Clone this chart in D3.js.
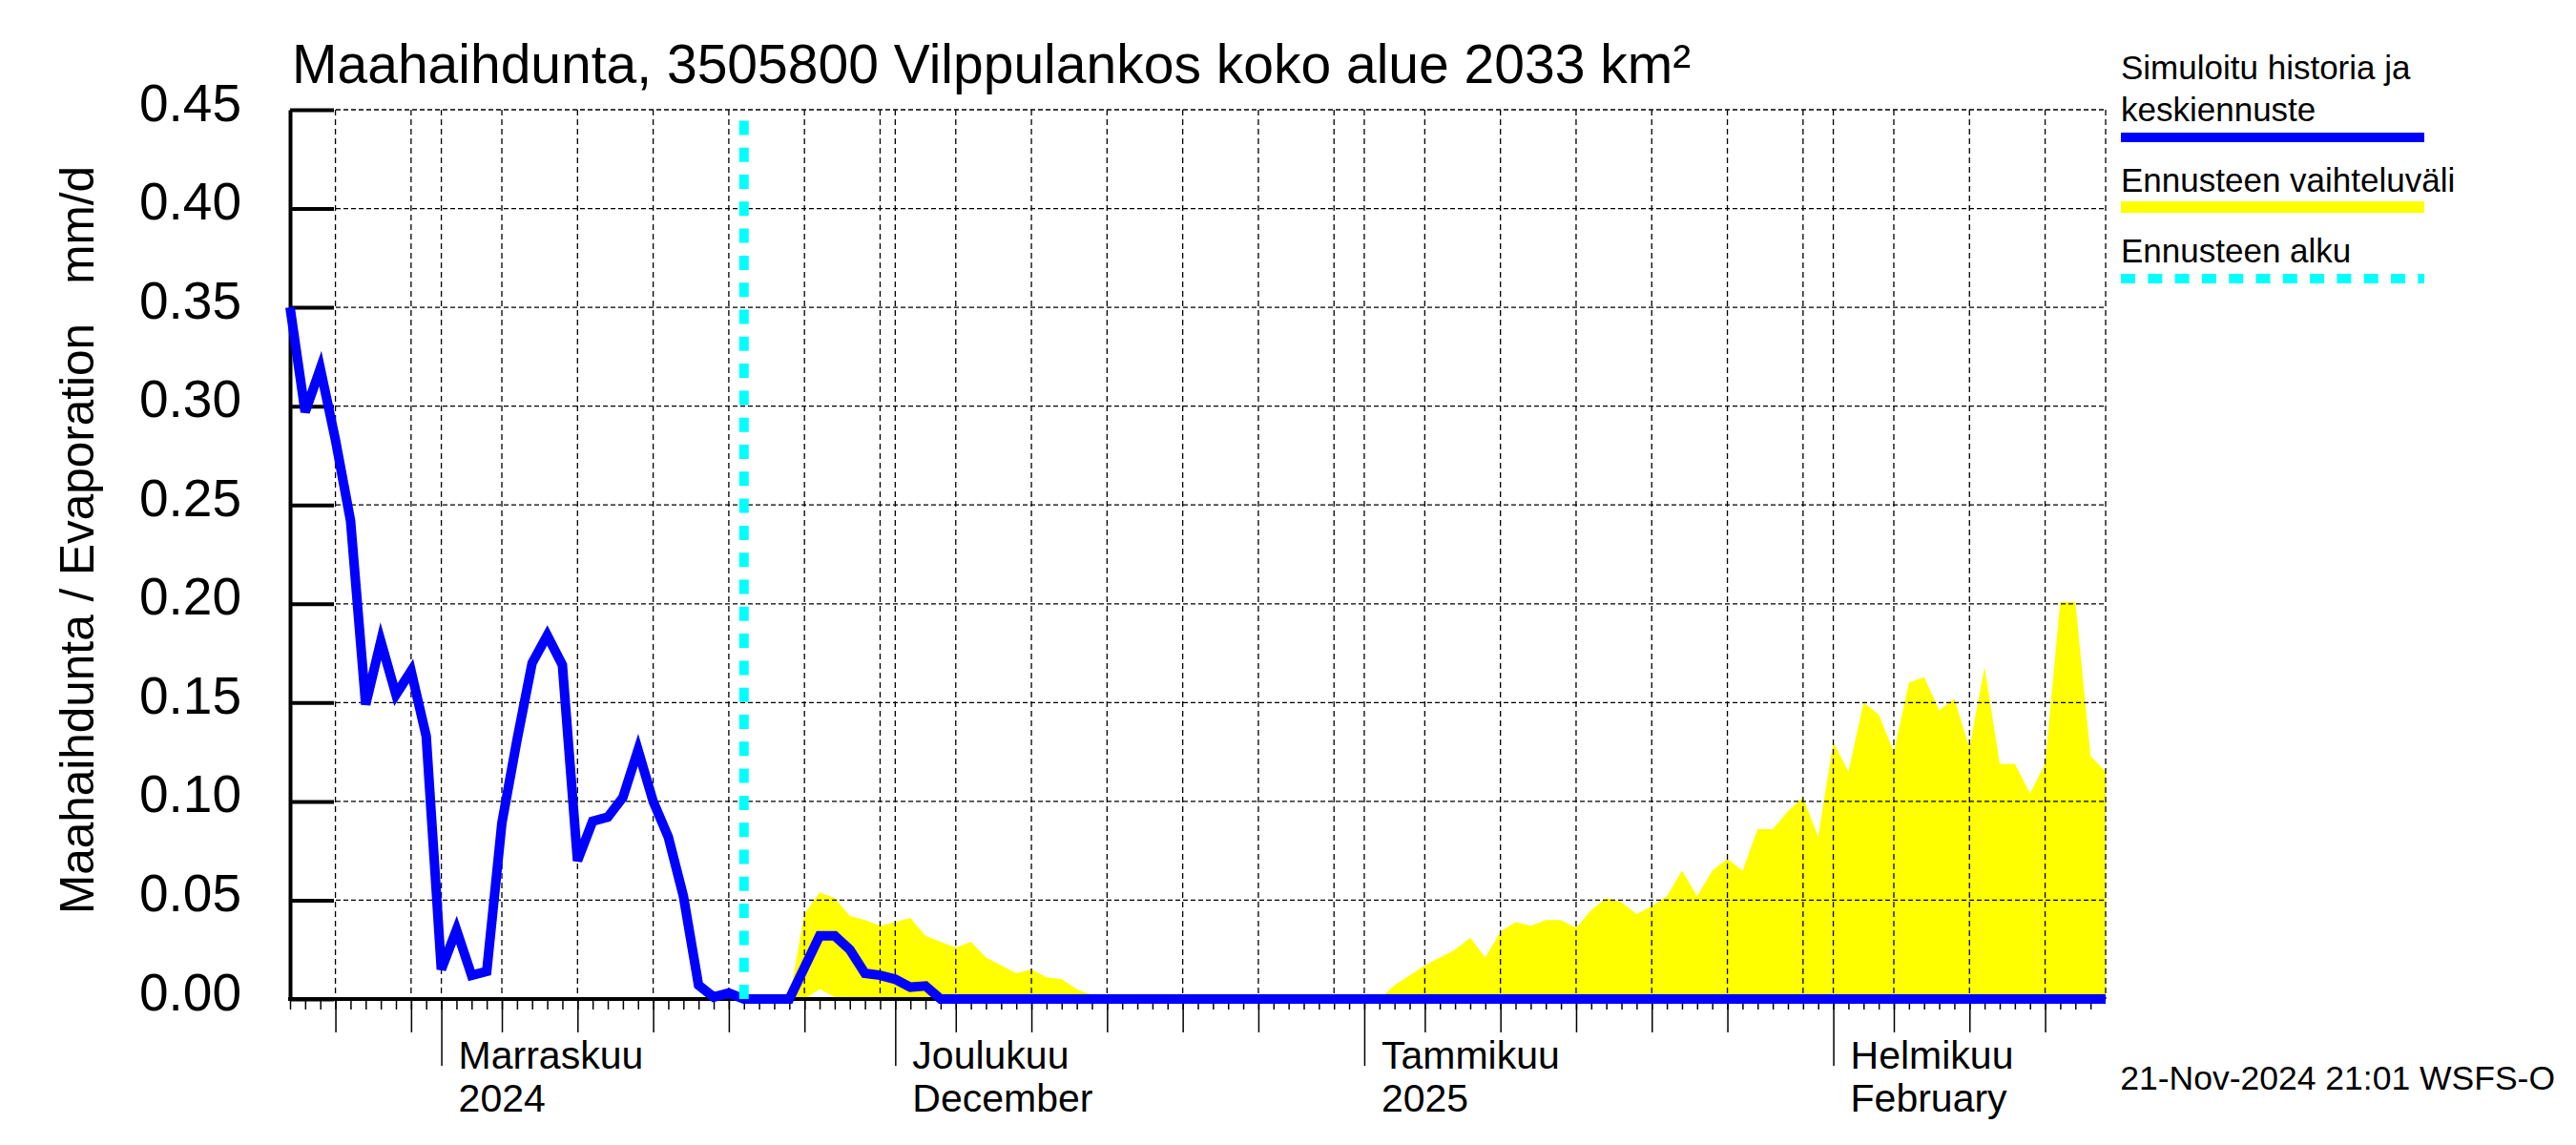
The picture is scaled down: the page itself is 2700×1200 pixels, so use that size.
<!DOCTYPE html>
<html lang="fi">
<head>
<meta charset="utf-8">
<title>Maahaihdunta</title>
<script src="https://cdn.jsdelivr.net/npm/d3@7"></script>
<style>
  body { margin: 0; background: #fff; }
  svg { display: block; font-family: "Liberation Sans", Arial, sans-serif; }
</style>
</head>
<body>
<script>
// daily values from 22.10.2024, mm/d
var startDay = new Date(2024, 9, 22);
var endDay = new Date(2025, 1, 19);
var forecastStart = new Date(2024, 10, 21);

// simulated history 22.10. - 21.11.
var historyVals = [0.350, 0.297, 0.319, 0.283, 0.242, 0.149, 0.181, 0.154, 0.166, 0.133,
  0.015, 0.035, 0.012, 0.014, 0.089, 0.131, 0.170, 0.184, 0.169, 0.070,
  0.090, 0.092, 0.102, 0.126, 0.100, 0.082, 0.052, 0.007, 0.001, 0.003, 0.000];

// forecast from 21.11. (mean, low, high)
var meanVals = [0, 0, 0, 0, 0.016, 0.032, 0.032, 0.025, 0.013, 0.012,
  0.010, 0.006, 0.0066, 0, 0, 0, 0, 0, 0, 0,
  0, 0, 0, 0, 0, 0, 0, 0, 0, 0,
  0, 0, 0, 0, 0, 0, 0, 0, 0, 0,
  0, 0, 0, 0, 0, 0, 0, 0, 0, 0,
  0, 0, 0, 0, 0, 0, 0, 0, 0, 0,
  0, 0, 0, 0, 0, 0, 0, 0, 0, 0,
  0, 0, 0, 0, 0, 0, 0, 0, 0, 0,
  0, 0, 0, 0, 0, 0, 0, 0, 0, 0, 0];

var lowVals = [0, 0, 0, 0, 0, 0.005, 0.001, 0, 0, 0,
  0, 0, 0, 0, 0, 0, 0, 0, 0, 0,
  0, 0, 0, 0, 0, 0, 0, 0, 0, 0,
  0, 0, 0, 0, 0, 0, 0, 0, 0, 0,
  0, 0, 0, 0, 0, 0, 0, 0, 0, 0,
  0, 0, 0, 0, 0, 0, 0, 0, 0, 0,
  0, 0, 0, 0, 0, 0, 0, 0, 0, 0,
  0, 0, 0, 0, 0, 0, 0, 0, 0, 0,
  0, 0, 0, 0, 0, 0, 0, 0, 0, 0, 0];

var highVals = [0, 0, 0, 0, 0.043, 0.054, 0.051, 0.042, 0.040, 0.037,
  0.039, 0.041, 0.032, 0.029, 0.026, 0.029, 0.021, 0.017, 0.013, 0.015,
  0.011, 0.010, 0.005, 0.002, 0, 0, 0, 0, 0, 0,
  0, 0, 0, 0, 0, 0, 0, 0, 0, 0,
  0, 0, 0, 0.007, 0.012, 0.017, 0.021, 0.025, 0.031, 0.021,
  0.034, 0.039, 0.037, 0.040, 0.040, 0.036, 0.045, 0.051, 0.049, 0.043,
  0.047, 0.052, 0.065, 0.052, 0.065, 0.071, 0.065, 0.086, 0.086, 0.095,
  0.102, 0.082, 0.130, 0.115, 0.150, 0.144, 0.125, 0.160, 0.163, 0.146,
  0.152, 0.127, 0.168, 0.119, 0.119, 0.104, 0.119, 0.201, 0.201, 0.123, 0.115];

var yTicks = [0, 0.05, 0.10, 0.15, 0.20, 0.25, 0.30, 0.35, 0.40, 0.45];
var monthDays = [new Date(2024, 10, 1), new Date(2024, 11, 1), new Date(2025, 0, 1), new Date(2025, 1, 1)];
var monthLabels = [["Marraskuu", "2024"], ["Joulukuu", "December"], ["Tammikuu", "2025"], ["Helmikuu", "February"]];
var gridDates = [1, 5, 10, 15, 20, 25, 30];
var longTickDates = [5, 10, 15, 20, 25];
var extraLongTicks = [new Date(2024, 9, 30)];

var titleText = "Maahaihdunta, 3505800 Vilppulankos koko alue 2033 km\u00b2";
var yTitle = "Maahaihdunta / Evaporation   mm/d";
var legendTexts = [["Simuloitu historia ja", "keskiennuste"], ["Ennusteen vaihteluv\u00e4li"], ["Ennusteen alku"]];
var stampText = "21-Nov-2024 21:01 WSFS-O";

var svg = d3.select("body").append("svg").attr("width", 2700).attr("height", 1200);

var x = d3.scaleTime().domain([startDay, endDay]).range([304, 2207]);
var y = d3.scaleLinear().domain([0, 0.45]).range([1047, 115]);

var hist = historyVals.map(function(v, i) { return { d: d3.timeDay.offset(startDay, i), v: v }; });
var fc = meanVals.map(function(v, i) {
  return { d: d3.timeDay.offset(forecastStart, i), v: v, lo: lowVals[i], hi: highVals[i] };
});

// yellow band
var area = d3.area()
  .x(function(d) { return x(d.d); })
  .y0(function(d) { return y(d.lo); })
  .y1(function(d) { return y(d.hi); });
svg.append("path").attr("d", area(fc)).attr("fill", "#ffff00");

// grid
var allDays = d3.timeDay.range(startDay, endDay);
var gridDays = allDays.filter(function(d) { return gridDates.indexOf(d.getDate()) >= 0; });
svg.append("g").selectAll("line").data(gridDays).enter().append("line")
  .attr("x1", function(d) { return x(d); }).attr("x2", function(d) { return x(d); })
  .attr("y1", 115).attr("y2", 1047)
  .attr("stroke", "#000").attr("stroke-width", 1.3).attr("stroke-dasharray", "6,4");
svg.append("line")
  .attr("x1", x(endDay)).attr("x2", x(endDay)).attr("y1", 115).attr("y2", 1047)
  .attr("stroke", "#000").attr("stroke-width", 1.3).attr("stroke-dasharray", "6,4");
svg.append("g").selectAll("line").data(yTicks.slice(1)).enter().append("line")
  .attr("x1", 304).attr("x2", 2207)
  .attr("y1", function(d) { return y(d); }).attr("y2", function(d) { return y(d); })
  .attr("stroke", "#000").attr("stroke-width", 1.3).attr("stroke-dasharray", "5,3");

// y axis
var yAxis = svg.append("g").attr("transform", "translate(304,0)")
  .call(d3.axisLeft(y).tickValues(yTicks).tickSize(-46).tickSizeOuter(0).tickPadding(51)
    .tickFormat(d3.format(".2f")));
yAxis.select(".domain").attr("stroke-width", 4);
yAxis.selectAll(".tick line").attr("stroke-width", 4);
yAxis.selectAll("text").attr("font-size", 55).attr("font-family", "Liberation Sans, Arial, sans-serif")
  .attr("dy", "0.2em").attr("fill", "#000");

// x axis: days, 5-day marks, months
function xAxisLayer(values, size) {
  var g = svg.append("g").attr("transform", "translate(0,1047)")
    .call(d3.axisBottom(x).tickValues(values).tickSize(size).tickSizeOuter(0).tickFormat(""));
  g.select(".domain").remove();
  g.selectAll(".tick line").attr("stroke-width", 1.5);
  return g;
}
xAxisLayer(allDays, 11);
xAxisLayer(allDays.filter(function(d) { return longTickDates.indexOf(d.getDate()) >= 0; })
  .concat(extraLongTicks), 35);
xAxisLayer(monthDays, 70);
svg.append("line").attr("x1", 302).attr("x2", 2207).attr("y1", 1047).attr("y2", 1047)
  .attr("stroke", "#000").attr("stroke-width", 4);

var ml = svg.append("g").selectAll("g").data(monthDays).enter().append("g")
  .attr("transform", function(d) { return "translate(" + (x(d) + 18) + ",0)"; });
ml.append("text").attr("y", 1120).attr("font-size", 41)
  .text(function(d, i) { return monthLabels[i][0]; });
ml.append("text").attr("y", 1165).attr("font-size", 41)
  .text(function(d, i) { return monthLabels[i][1]; });

// blue line
var line = d3.line().x(function(d) { return x(d.d); }).y(function(d) { return y(d.v); });
svg.append("path").attr("d", line(hist.concat(fc.slice(1))))
  .attr("fill", "none").attr("stroke", "#0000ff").attr("stroke-width", 10)
  .attr("stroke-linejoin", "miter");

// forecast start
svg.append("line")
  .attr("x1", x(forecastStart)).attr("x2", x(forecastStart)).attr("y1", 1047).attr("y2", 118)
  .attr("stroke", "#00ffff").attr("stroke-width", 10).attr("stroke-dasharray", "15,13.3");

// titles
svg.append("text").attr("x", 306).attr("y", 87).attr("font-size", 57).text(titleText);
svg.append("text").attr("transform", "translate(98,566) rotate(-90)")
  .attr("text-anchor", "middle").attr("font-size", 49.5).style("white-space", "pre").text(yTitle);
svg.append("text").attr("x", 2678).attr("y", 1142).attr("text-anchor", "end")
  .attr("font-size", 35.5).text(stampText);

// legend
var lg = svg.append("g").attr("font-size", 35);
lg.append("text").attr("x", 2223).attr("y", 83).text(legendTexts[0][0]);
lg.append("text").attr("x", 2223).attr("y", 127).text(legendTexts[0][1]);
lg.append("rect").attr("x", 2223).attr("y", 139).attr("width", 318).attr("height", 10).attr("fill", "#0000ff");
lg.append("text").attr("x", 2223).attr("y", 201).text(legendTexts[1][0]);
lg.append("rect").attr("x", 2223).attr("y", 211).attr("width", 318).attr("height", 12).attr("fill", "#ffff00");
lg.append("text").attr("x", 2223).attr("y", 275).text(legendTexts[2][0]);
lg.append("line").attr("x1", 2223).attr("x2", 2541).attr("y1", 292).attr("y2", 292)
  .attr("stroke", "#00ffff").attr("stroke-width", 10).attr("stroke-dasharray", "15,13.3");
</script>
</body>
</html>
